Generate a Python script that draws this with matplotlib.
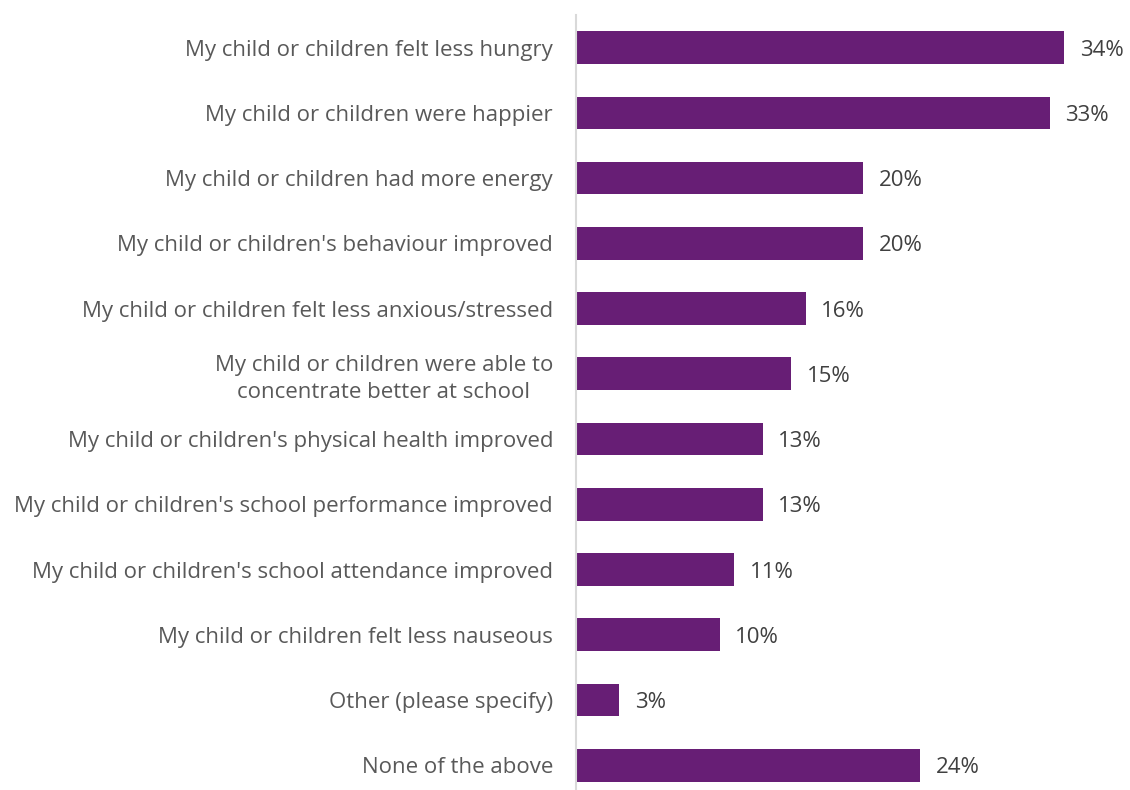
import matplotlib.pyplot as plt

# Survey responses, top to bottom
labels = [
    "My child or children felt less hungry",
    "My child or children were happier",
    "My child or children had more energy",
    "My child or children's behaviour improved",
    "My child or children felt less anxious/stressed",
    "My child or children were able to\nconcentrate better at school",
    "My child or children's physical health improved",
    "My child or children's school performance improved",
    "My child or children's school attendance improved",
    "My child or children felt less nauseous",
    "Other (please specify)",
    "None of the above",
]
values = [34, 33, 20, 20, 16, 15, 13, 13, 11, 10, 3, 24]

plt.rcParams['font.family'] = ['Open Sans', 'DejaVu Sans']

fig = plt.figure(figsize=(11.3, 7.9), dpi=100)
ax = fig.add_axes([576 / 1130, 0, 1 - 576 / 1130, 1 - 15 / 790])

pos = list(range(len(labels)))
ax.barh(pos, values, height=0.5, color="#671E75")

# percentage labels just past the end of each bar
for y, v in zip(pos, values):
    ax.text(v + 1.1, y, f"{v}%", va="center_baseline", ha="left",
            fontsize=16, color="#404040")

ax.set_yticks(pos)
ax.set_yticklabels(labels, fontsize=16, color="#595959",
                   multialignment="center", linespacing=1.35)
ax.tick_params(axis="y", length=0, pad=16.5)
ax.set_xticks([])
ax.set_xlim(0, 38.6)
ax.set_ylim(11.38, -0.5)

for side in ["top", "right", "bottom"]:
    ax.spines[side].set_visible(False)
ax.spines["left"].set_color("#d9d9d9")
ax.spines["left"].set_linewidth(1.5)

fig.savefig("out.png", dpi=100)
